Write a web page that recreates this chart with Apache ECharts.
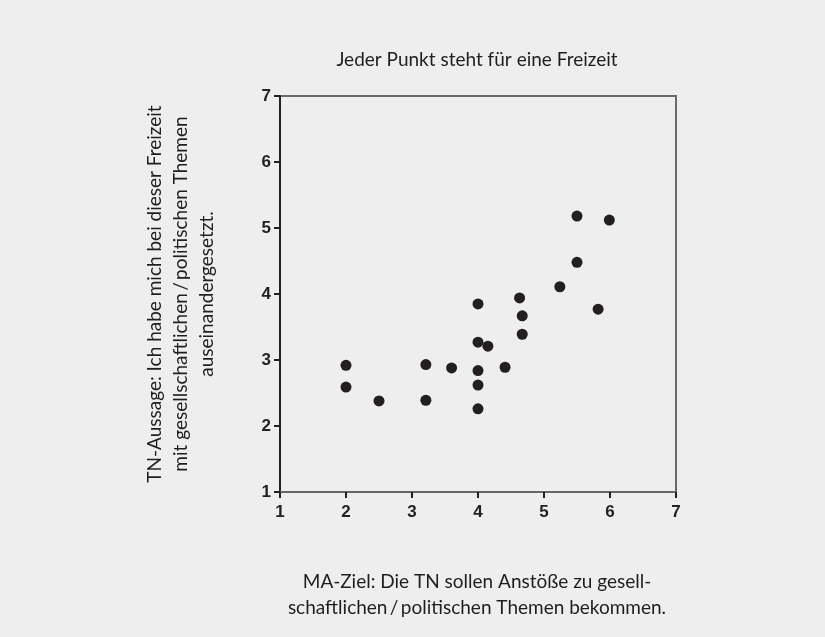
<!DOCTYPE html>
<html><head><meta charset="utf-8">
<script src="https://cdn.jsdelivr.net/npm/echarts@6/dist/echarts.min.js"></script>
<style>html,body{margin:0;padding:0;background:#eeeeee}#c{width:825px;height:637px}</style>
</head><body><div id="c"></div>
<script>
const titleText = 'Jeder Punkt steht für eine Freizeit';
const xName = ['MA-Ziel: Die TN sollen Anstöße zu gesell-', 'schaftlichen\u2009/\u2009politischen Themen bekommen.'];
const yName = ['TN-Aussage: Ich habe mich bei dieser Freizeit', 'mit gesellschaftlichen\u2009/\u2009politischen Themen', 'auseinandergesetzt.'];
const xTicks = [1, 2, 3, 4, 5, 6, 7];
const yTicks = [1, 2, 3, 4, 5, 6, 7];
const maZiel = [2.00, 2.00, 2.50, 3.21, 3.21, 3.60, 4.00, 4.00, 4.15, 4.00, 4.00, 4.00, 4.41, 4.63, 4.67, 4.67, 5.24, 5.50, 5.50, 5.99, 5.82];
const tnAussage = [2.92, 2.59, 2.38, 2.93, 2.39, 2.88, 3.85, 3.27, 3.21, 2.84, 2.62, 2.26, 2.89, 3.94, 3.67, 3.39, 4.11, 5.18, 4.48, 5.12, 3.77];

const points = maZiel.map((x, i) => [x, tnAussage[i]]);
const chart = echarts.init(document.getElementById('c'));
const textFont = 'Lato, "Open Sans", sans-serif';
const tickLabel = { fontFamily: '"Liberation Sans", Arial, sans-serif', fontWeight: 'bold', fontSize: 17, color: '#222' };
chart.setOption({
  backgroundColor: '#eeeeee',
  animation: false,
  graphic: [
    { type: 'text', x: 477, y: 60,
      style: { text: titleText, textAlign: 'center', textVerticalAlign: 'middle',
        font: '19px ' + textFont, fill: '#1f1f1f' } },
    { type: 'text', x: 181, y: 294, rotation: Math.PI / 2,
      style: { text: yName.join('\n'), textAlign: 'center', textVerticalAlign: 'middle', lineHeight: 26,
        font: '19px ' + textFont, fill: '#1f1f1f' } },
    { type: 'text', x: 477, y: 595,
      style: { text: xName.join('\n'), textAlign: 'center', textVerticalAlign: 'middle', lineHeight: 26,
        font: '19px ' + textFont, fill: '#1f1f1f' } }
  ],
  grid: { left: 280, right: 149, top: 96, bottom: 145, show: true, borderColor: '#6a6a6a', borderWidth: 2, backgroundColor: 'transparent' },
  xAxis: { type: 'value', min: xTicks[0], max: xTicks[xTicks.length - 1], interval: 1,
    axisLine: { show: true, onZero: false, lineStyle: { color: '#666', width: 2 } },
    axisTick: { show: true, inside: false, length: 6, lineStyle: { color: '#222', width: 2 } },
    axisLabel: Object.assign({ margin: 12 }, tickLabel),
    splitLine: { show: false } },
  yAxis: { type: 'value', min: yTicks[0], max: yTicks[yTicks.length - 1], interval: 1,
    axisLine: { show: true, onZero: false, lineStyle: { color: '#222', width: 2 } },
    axisTick: { show: true, inside: false, length: 6, lineStyle: { color: '#222', width: 2 } },
    axisLabel: Object.assign({ margin: 9 }, tickLabel),
    splitLine: { show: false } },
  series: [{ type: 'scatter', data: points, symbol: 'circle', symbolSize: 11,
    itemStyle: { color: '#231f20', opacity: 1 } }]
});
</script></body></html>
